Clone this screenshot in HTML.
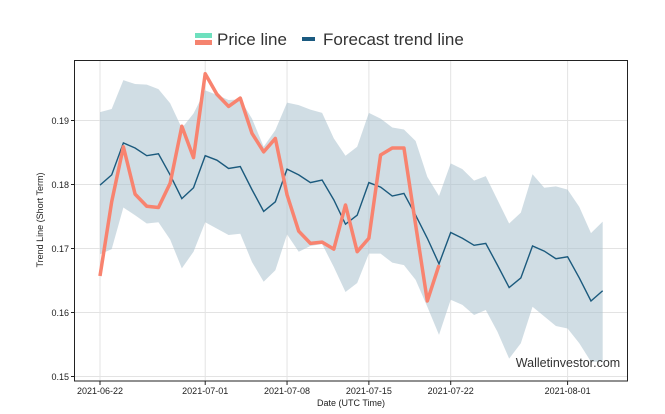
<!DOCTYPE html>
<html><head><meta charset="utf-8"><style>
body{margin:0;background:#fff;font-family:"Liberation Sans",sans-serif}
svg{display:block}
</style></head><body>
<svg width="665" height="414" viewBox="0 0 665 414">
<g>
<g>
<rect x="195" y="33" width="17" height="5" fill="#6ee0be"/>
<rect x="195" y="40" width="17" height="5" fill="#f5836f"/>
<text x="217" y="45" font-size="17" fill="#333">Price line</text>
</g>
<g>
<rect x="302" y="37" width="13" height="4" fill="#1b5a80"/>
<text x="323" y="45" font-size="17" fill="#333">Forecast trend line</text>
</g>
</g>
<g id="plot"></g>
<rect x="74.5" y="60.5" width="553" height="320.5" fill="none" stroke="#222" stroke-width="1"/>
<text x="568" y="367" font-size="12.5" fill="#333" text-anchor="middle">Walletinvestor.com</text>
<text x="351" y="406" font-size="9" fill="#222" text-anchor="middle">Date (UTC Time)</text>
<text transform="translate(43,220) rotate(-90)" font-size="9" fill="#222" text-anchor="middle">Trend Line (Short Term)</text>
</svg>
<script>
const forecast=[0.1799,0.1815,0.1865,0.1857,0.1845,0.1848,0.1815,0.1778,0.1795,0.1845,0.1838,0.1825,0.1828,0.1792,0.1758,0.1773,0.1824,0.1815,0.1803,0.1807,0.1776,0.1738,0.1752,0.1803,0.1796,0.1782,0.1786,0.1752,0.1716,0.1676,0.1725,0.1716,0.1705,0.1708,0.1674,0.1639,0.1654,0.1704,0.1696,0.1684,0.1687,0.1654,0.1618,0.1634];
const upper=[0.1913,0.1918,0.1963,0.1957,0.1956,0.1949,0.1927,0.1888,0.1911,0.1947,0.1940,0.1932,0.1933,0.1903,0.1859,0.1885,0.1928,0.1924,0.1917,0.1912,0.1872,0.1845,0.1859,0.1912,0.1903,0.1889,0.1886,0.1868,0.1812,0.1782,0.1833,0.1824,0.1806,0.1813,0.1776,0.1739,0.1756,0.1816,0.1795,0.1797,0.1792,0.1765,0.1724,0.1742];
const lower=[0.1691,0.1699,0.1764,0.1752,0.1739,0.1741,0.1714,0.1669,0.1695,0.1741,0.1731,0.1721,0.1723,0.1679,0.1648,0.1666,0.1722,0.1695,0.1704,0.1707,0.1671,0.1632,0.1646,0.1692,0.1692,0.1678,0.1674,0.1651,0.1609,0.1565,0.1620,0.1612,0.1596,0.1604,0.1570,0.1528,0.1552,0.1609,0.1594,0.1579,0.1575,0.1552,0.1523,0.1523];
const price=[0.1657,0.1773,0.1859,0.1785,0.1766,0.1764,0.1802,0.1891,0.1842,0.1973,0.1941,0.1922,0.1935,0.1880,0.1851,0.1872,0.1784,0.1727,0.1708,0.1710,0.1699,0.1768,0.1695,0.1716,0.1846,0.1857,0.1857,0.1737,0.1618,0.1674];
const yTicks=[0.15,0.16,0.17,0.18,0.19];
const xTickLabels=["2021-06-22","2021-07-01","2021-07-08","2021-07-15","2021-07-22","2021-08-01"];
const xTickDays=[0,9,16,23,30,40];
const X=d=>100+d*11.69;
const Y=v=>184.5-(v-0.18)*6400;
const NS="http://www.w3.org/2000/svg";
const g=document.getElementById('plot');
function mk(t,a){const e=document.createElementNS(NS,t);for(const k in a)e.setAttribute(k,a[k]);g.appendChild(e);return e;}
yTicks.forEach(v=>{
 const l=mk('line',{x1:74.5,x2:627.5,y1:Y(v),y2:Y(v),stroke:'#e3e3e3','stroke-width':1});
 
 
 const tk=mk('line',{x1:71,x2:74.5,y1:Y(v),y2:Y(v),stroke:'#222'});
 
 
 const t=mk('text',{x:69,y:Y(v)+3.5,'font-size':9,fill:'#222','text-anchor':'end'});
 t.textContent=v.toFixed(2);
 
 
});
xTickDays.forEach((d,i)=>{
 const l=mk('line',{x1:X(d),x2:X(d),y1:60.5,y2:381,stroke:'#e3e3e3','stroke-width':1});
 
 
 const tk=mk('line',{x1:X(d),x2:X(d),y1:381,y2:385,stroke:'#222'});
 
 
 const t=mk('text',{x:X(d),y:394,'font-size':9,fill:'#222','text-anchor':'middle'});
 t.textContent=xTickLabels[i];
 
 
});
let pts=upper.map((v,i)=>X(i)+','+Y(v)).concat(lower.map((v,i)=>X(i)+','+Y(v)).reverse());
const band=mk('polygon',{points:pts.join(' '),fill:'#a9c1cd','fill-opacity':0.55});


const fl=mk('polyline',{points:forecast.map((v,i)=>X(i)+','+Y(v)).join(' '),fill:'none',stroke:'#1b5a7d','stroke-width':1.4});


const pl=mk('polyline',{points:price.map((v,i)=>X(i)+','+Y(v)).join(' '),fill:'none',stroke:'#f8836f','stroke-width':3.5,'stroke-linejoin':'round'});


</script>
</body></html>
